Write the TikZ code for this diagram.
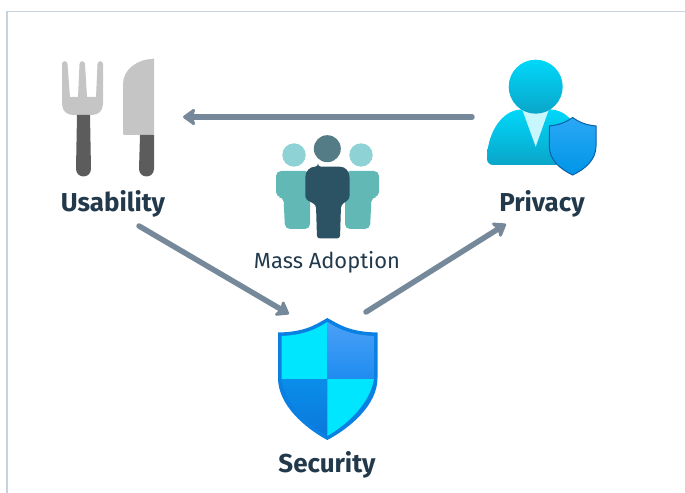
\documentclass[tikz,border=0pt]{standalone}
\usepackage{fontspec}
\setmainfont{Fira Sans}
\usepackage{xcolor}
\usetikzlibrary{arrows.meta}
\definecolor{framecol}{HTML}{C6D3DE}
\definecolor{arrowcol}{HTML}{75899B}
\definecolor{textcol}{HTML}{22394B}
\definecolor{silver}{HTML}{C5C5C5}
\definecolor{handle}{HTML}{5C5C5C}
\definecolor{borderblue}{HTML}{0A80E2}
\definecolor{brightcyan}{HTML}{00E6FF}
\definecolor{personlight}{HTML}{00D8FA}
\definecolor{persondark}{HTML}{0AA5C8}
\definecolor{collar}{HTML}{C8F6FD}
\definecolor{badgetop}{HTML}{2AA8F5}
\definecolor{badgebottom}{HTML}{0095E8}
\definecolor{badgeline}{HTML}{0A5EA8}
\definecolor{sidehead}{HTML}{8ED2D5}
\definecolor{sidebody}{HTML}{62B8B5}
\definecolor{midhead}{HTML}{537C87}
\definecolor{midbody}{HTML}{2B5364}
\definecolor{quadtop}{HTML}{4AA0F7}
\definecolor{quadmid}{HTML}{1F8CF0}
\definecolor{quadleft}{HTML}{0A8EEA}
\definecolor{quadlow}{HTML}{0A78DC}
\tikzset{
    iconlabel/.style={text=textcol, font=\fontsize{26}{30}\selectfont\bfseries, inner sep=0pt},
    flow/.style={draw=arrowcol, line width=5.5pt, line cap=round, -{Stealth[length=14pt,width=20pt,inset=3pt,round]}}
}

\begin{document}
\begin{tikzpicture}[x=1bp,y=-1bp]
    \useasboundingbox (0,0) rectangle (685,493);
    % Frame
    \draw[framecol, line width=1pt] (6,11.5) -- (685,11.5);
    \draw[framecol, line width=2pt] (7,11) -- (7,493);

    % Fork
    \fill[silver] (62,64) arc (180:360:2.75) -- (70,97) -- (78,97) -- (79.5,64) arc (180:360:2.75) -- (87,97) -- (96,97) -- (97.5,64) arc (180:360:2.75)
        -- (103,104) .. controls (103,111) and (98,115) .. (92,115) -- (73,115) .. controls (67,115) and (62,111) .. (62,104) -- cycle;
    \fill[handle] (77,115) -- (90,115) -- (91,169) arc (0:180:7.5) -- cycle;
    % Knife
    \fill[silver, rounded corners=1pt] (154,59) -- (154,135) -- (123,135) -- (123,85) .. controls (123,70) and (137,59) .. (154,59) -- cycle;
    \fill[handle] (140,135) -- (154,135) -- (154,169) arc (0:180:7.5) -- cycle;

    % Person
    \shade[top color=personlight, bottom color=persondark, rounded corners=6pt]
        (487,165) .. controls (487,135) and (500,113) .. (523,109) -- (549,109) .. controls (572,113) and (584,135) .. (584,165) -- cycle;
    \fill[collar] (522,109) -- (549,109) -- (535.7,146.7) -- cycle;
    \shade[top color=personlight, bottom color=persondark] (535.7,86.7) circle (27);
    \shade[top color=badgetop, bottom color=badgebottom, draw=badgeline, line width=1pt]
        (572.7,117.5) .. controls (565,123) and (558,125) .. (549.3,126) -- (549.3,146) .. controls (549.3,160) and (560,169) .. (572.7,175)
        .. controls (585,169) and (596,160) .. (596,146) -- (596,126) .. controls (587,125) and (580,123) .. (572.7,117.5) -- cycle;

    % Crowd
    \fill[sidehead] (294,155) circle (11.7);
    \fill[sidehead] (361,155) circle (11.7);
    \fill[sidebody, rounded corners=5pt] (288,171) -- (310,171) -- (310,229) -- (285,229) -- (283.5,197) -- (276,197) -- (276,171) -- cycle;
    \fill[sidebody, rounded corners=5pt] (367,171) -- (345,171) -- (345,229) -- (370,229) -- (371.5,197) -- (379,197) -- (379,171) -- cycle;
    \fill[midhead] (327.3,148.7) circle (13.5);
    \fill[midbody, rounded corners=3pt] (318,166.7) -- (337,166.7) .. controls (345,166.7) and (349.5,171) .. (349.5,180)
        -- (349.5,199) -- (341,205) -- (340,238.5) -- (317,238.5) -- (316,205) -- (305.3,199) -- (305.3,180) .. controls (305.3,171) and (310,166.7) .. (318,166.7) -- cycle;

    % Shield
    \fill[borderblue] (327.3,318) .. controls (315,325) and (305,332) .. (278,332.5) -- (278,378) .. controls (278,405) and (305,428) .. (327.3,440)
        .. controls (350,428) and (377.5,405) .. (377.5,378) -- (377.5,332.5) .. controls (350,332) and (340,325) .. (327.3,318) -- cycle;
    \fill[brightcyan] (327.3,322) .. controls (316,329) and (305,335) .. (281.5,336) -- (281.5,379) -- (327.3,379) -- cycle;
    \shade[top color=quadtop, bottom color=quadmid] (327.3,322) .. controls (339,329) and (350,335) .. (374,336) -- (374,379) -- (327.3,379) -- cycle;
    \shade[top color=quadleft, bottom color=quadlow] (281.5,379) .. controls (285,403) and (307,424) .. (327.3,436) -- (327.3,379) -- cycle;
    \fill[brightcyan] (374,379) .. controls (370,403) and (348,424) .. (327.3,436) -- (327.3,379) -- cycle;

    % Labels
    \node[iconlabel] (usability) at (113,204) {Usability};
    \node[iconlabel] (privacy) at (542,204) {Privacy};
    \node[iconlabel] (security) at (327,465) {Security};
    \node[text=textcol, font=\fontsize{22}{26}\selectfont, inner sep=0pt] (adoption) at (327,262) {Mass Adoption};

    % Flow
    \coordinate (usabilityend) at (183,117);
    \coordinate (privacystart) at (472,117);
    \coordinate (usabilitystart) at (139,226);
    \coordinate (securityend) at (289,314);
    \coordinate (securitystart) at (366,312);
    \coordinate (privacyend) at (506,224);
    \draw[flow] (privacystart) -- (usabilityend);
    \draw[flow] (usabilitystart) -- (securityend);
    \draw[flow] (securitystart) -- (privacyend);
\end{tikzpicture}
\end{document}
